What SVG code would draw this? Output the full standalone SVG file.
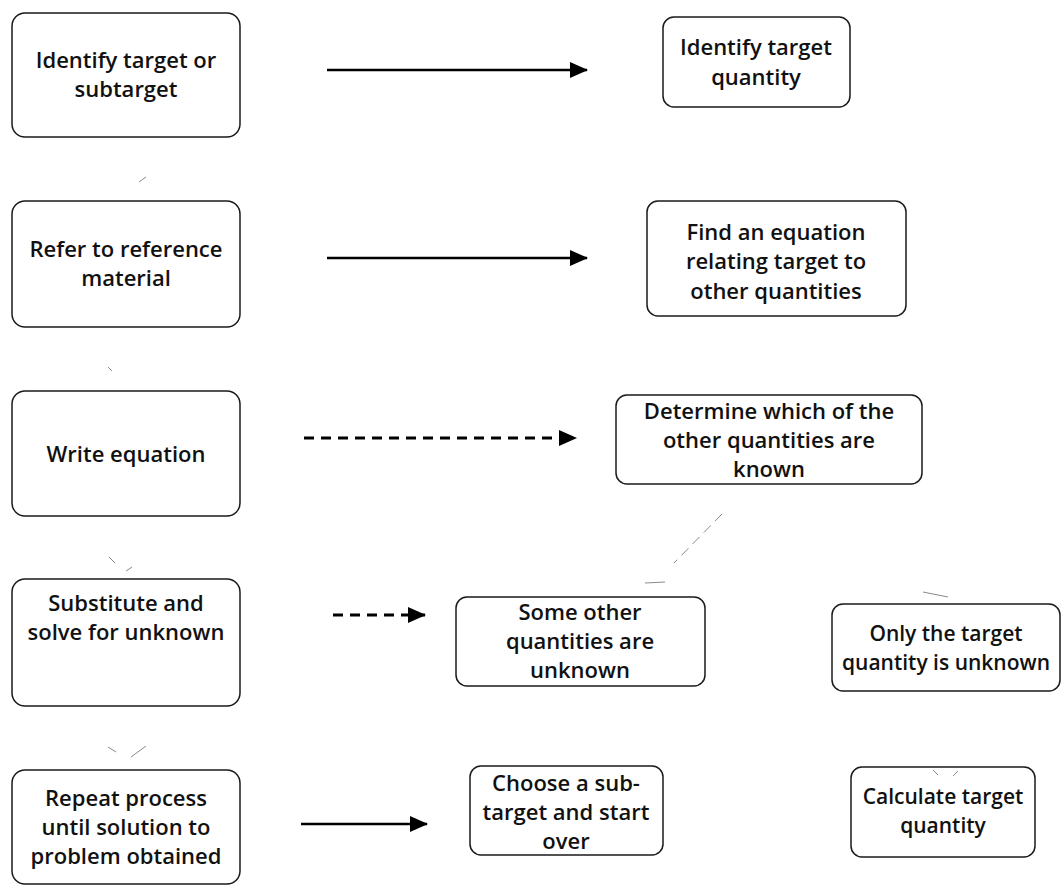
<svg xmlns="http://www.w3.org/2000/svg" width="1063" height="889" viewBox="0 0 1063 889">
  <style>
    .box { fill: #ffffff; stroke: #1a1a1a; stroke-width: 1.5; }
    .lbl { font-family: "Open Sans", "Liberation Sans", sans-serif; font-weight: 600; font-size: 22px; fill: #111111; text-anchor: middle; }
    .sm { font-size: 21px; }
    .solid { stroke: #000000; stroke-width: 2.5; fill: none; }
    .dash { stroke: #000000; stroke-width: 3.2; fill: none; stroke-dasharray: 10 7; }
    .faint { stroke: #8a8a8a; stroke-width: 1; fill: none; }
  </style>
  <defs>
    <marker id="head" markerWidth="18" markerHeight="16" refX="17" refY="8" orient="auto" markerUnits="userSpaceOnUse">
      <path d="M0,0 L18,8 L0,16 Z" fill="#000000"/>
    </marker>
  </defs>
  <rect width="1063" height="889" fill="#ffffff"/>

  <!-- left column: procedure steps -->
  <g id="step-identify">
    <rect class="box" x="12" y="13" width="228" height="124" rx="13"/>
    <text class="lbl" x="126" y="68">Identify target or</text>
    <text class="lbl" x="126" y="97">subtarget</text>
  </g>
  <g id="step-refer">
    <rect class="box" x="12" y="201" width="228" height="126" rx="13"/>
    <text class="lbl" x="126" y="257">Refer to reference</text>
    <text class="lbl" x="126" y="286">material</text>
  </g>
  <g id="step-write">
    <rect class="box" x="12" y="391" width="228" height="125" rx="13"/>
    <text class="lbl" x="126" y="462">Write equation</text>
  </g>
  <g id="step-substitute">
    <rect class="box" x="12" y="579" width="228" height="127" rx="13"/>
    <text class="lbl" x="126" y="611">Substitute and</text>
    <text class="lbl" x="126" y="640">solve for unknown</text>
  </g>
  <g id="step-repeat">
    <rect class="box" x="12" y="770" width="228" height="114" rx="13"/>
    <text class="lbl" x="126" y="806">Repeat process</text>
    <text class="lbl" x="126" y="835">until solution to</text>
    <text class="lbl" x="126" y="864">problem obtained</text>
  </g>

  <!-- right side: outcomes -->
  <g id="out-target">
    <rect class="box" x="663" y="17" width="187" height="90" rx="11"/>
    <text class="lbl" x="756" y="55">Identify target</text>
    <text class="lbl" x="756" y="85">quantity</text>
  </g>
  <g id="out-equation">
    <rect class="box" x="647" y="201" width="259" height="115" rx="11"/>
    <text class="lbl" x="776" y="240">Find an equation</text>
    <text class="lbl" x="776" y="269">relating target to</text>
    <text class="lbl" x="776" y="299">other quantities</text>
  </g>
  <g id="out-known">
    <rect class="box" x="616" y="395" width="306" height="89" rx="11"/>
    <text class="lbl" x="769" y="419">Determine which of the</text>
    <text class="lbl" x="769" y="448">other quantities are</text>
    <text class="lbl" x="769" y="477">known</text>
  </g>
  <g id="out-some-unknown">
    <rect class="box" x="456" y="597" width="249" height="89" rx="11"/>
    <text class="lbl" x="580" y="620">Some other</text>
    <text class="lbl" x="580" y="649">quantities are</text>
    <text class="lbl" x="580" y="678">unknown</text>
  </g>
  <g id="out-only-target">
    <rect class="box" x="832" y="604" width="228" height="87" rx="11"/>
    <text class="lbl sm" x="946" y="641">Only the target</text>
    <text class="lbl sm" x="946" y="670">quantity is unknown</text>
  </g>
  <g id="out-subtarget">
    <rect class="box" x="470" y="766" width="193" height="89" rx="11"/>
    <text class="lbl" x="566" y="791">Choose a sub-</text>
    <text class="lbl" x="566" y="820">target and start</text>
    <text class="lbl" x="566" y="849">over</text>
  </g>
  <g id="out-calculate">
    <rect class="box" x="851" y="767" width="184" height="90" rx="11"/>
    <text class="lbl sm" x="943" y="804">Calculate target</text>
    <text class="lbl sm" x="943" y="833">quantity</text>
  </g>

  <!-- connectors -->
  <g id="connectors">
    <line class="solid" x1="327" y1="70" x2="587" y2="70" marker-end="url(#head)"/>
    <line class="solid" x1="327" y1="258" x2="587" y2="258" marker-end="url(#head)"/>
    <line class="dash" x1="304" y1="438" x2="576" y2="438" marker-end="url(#head)"/>
    <line class="dash" x1="333" y1="615" x2="425" y2="615" marker-end="url(#head)"/>
    <line class="solid" x1="301" y1="824" x2="427" y2="824" marker-end="url(#head)"/>

    <!-- faint remnant link strokes -->
    <line class="faint" x1="139" y1="182" x2="146" y2="177"/>
    <line class="faint" x1="108" y1="367" x2="112" y2="371"/>
    <line class="faint" x1="109" y1="557" x2="115" y2="563"/>
    <line class="faint" x1="126" y1="571" x2="132" y2="567"/>
    <line class="faint" x1="108" y1="747" x2="116" y2="752"/>
    <line class="faint" x1="131" y1="757" x2="146" y2="746"/>
    <line class="faint" x1="722" y1="514" x2="674" y2="563" stroke-dasharray="10 6"/>
    <line class="faint" x1="645" y1="583" x2="665" y2="582"/>
    <line class="faint" x1="923" y1="592" x2="948" y2="597"/>
    <line class="faint" x1="933" y1="770" x2="938" y2="775"/>
    <line class="faint" x1="953" y1="776" x2="958" y2="771"/>
  </g>
</svg>
